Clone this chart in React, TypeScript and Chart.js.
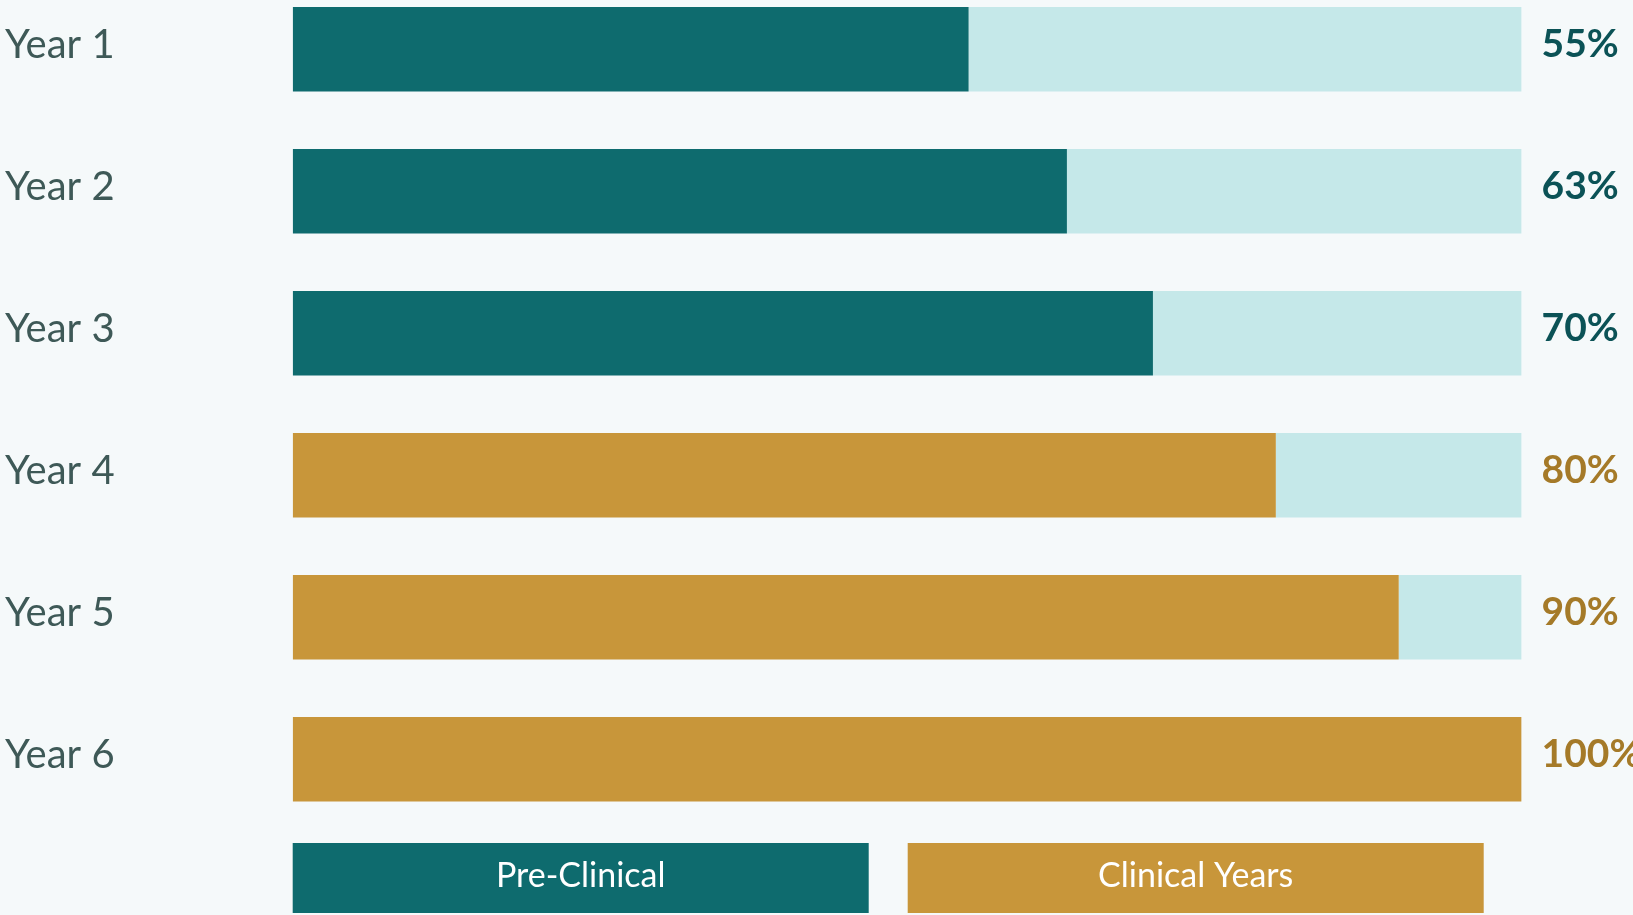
import { useEffect, useRef } from 'react';
import { Chart, registerables } from 'chart.js';

Chart.register(...registerables);

const YEARS = ['Year 1', 'Year 2', 'Year 3', 'Year 4', 'Year 5', 'Year 6'];
const PRE_CLINICAL = [55, 63, 70, 0, 0, 0];
const CLINICAL = [0, 0, 0, 80, 90, 100];
const REMAINING = [45, 37, 30, 20, 10, 0];
const LEGEND_LABELS = ['Pre-Clinical', 'Clinical Years'];

const TEAL = '#0E6B6E';
const GOLD = '#C8963A';
const LIGHT = '#C5E8E9';
const BG = '#F5F9FA';
const TEAL_TEXT = '#0B5256';
const GOLD_TEXT = '#A57A28';
const LABEL_COLOR = '#3E5957';
const FONT = "Lato, 'Open Sans', sans-serif";

const SHIFT = 40; // canvas starts above the visible page top
const CANVAS_W = 1633;
const CANVAS_H = 955;

const percentLabels = {
  id: 'percentLabels',
  afterDatasetsDraw(chart: any) {
    const { ctx, scales } = chart;
    const x = scales.x.getPixelForValue(100) + 20;
    ctx.save();
    ctx.font = `bold 39px ${FONT}`;
    ctx.textAlign = 'left';
    ctx.textBaseline = 'middle';
    YEARS.forEach((_, i) => {
      const value = PRE_CLINICAL[i] + CLINICAL[i];
      ctx.fillStyle = PRE_CLINICAL[i] > 0 ? TEAL_TEXT : GOLD_TEXT;
      ctx.fillText(`${value}%`, x, scales.y.getPixelForValue(i) - 5);
    });
    ctx.restore();
  },
};

const boxLegend = {
  id: 'boxLegend',
  afterDraw(chart: any) {
    const { ctx, chartArea } = chart;
    const boxW = 576;
    const gap = 39;
    const top = chartArea.bottom + 12.7;
    const h = 70;
    ctx.save();
    ctx.font = `34px ${FONT}`;
    ctx.textAlign = 'center';
    ctx.textBaseline = 'middle';
    LEGEND_LABELS.forEach((label, i) => {
      const ds = chart.data.datasets[i];
      const left = chartArea.left + i * (boxW + gap);
      ctx.fillStyle = ds.backgroundColor;
      ctx.fillRect(left, top, boxW, h);
      ctx.fillStyle = '#FFFFFF';
      ctx.fillText(label, left + boxW / 2, top + 33);
    });
    ctx.restore();
  },
};

export default function App() {
  const canvasRef = useRef<HTMLCanvasElement | null>(null);

  useEffect(() => {
    if (!canvasRef.current) return;
    const chart = new Chart(canvasRef.current, {
      type: 'bar',
      data: {
        labels: YEARS,
        datasets: [
          { label: LEGEND_LABELS[0], data: PRE_CLINICAL, backgroundColor: TEAL, borderWidth: 0 },
          { label: LEGEND_LABELS[1], data: CLINICAL, backgroundColor: GOLD, borderWidth: 0 },
          { label: 'Remaining', data: REMAINING, backgroundColor: LIGHT, borderWidth: 0 },
        ],
      },
      options: {
        indexAxis: 'y',
        responsive: false,
        animation: false,
        devicePixelRatio: 1,
        categoryPercentage: 1,
        barPercentage: 0.596,
        layout: { padding: { left: 5, top: 18.3, right: 111.4, bottom: 84.7 } },
        plugins: {
          legend: { display: false },
          tooltip: { enabled: false },
        },
        scales: {
          x: { stacked: true, display: false, min: 0, max: 100 },
          y: {
            stacked: true,
            grid: { display: false, drawTicks: false },
            border: { display: false },
            ticks: {
              color: LABEL_COLOR,
              font: { family: FONT, size: 40, lineHeight: 0.5 },
              crossAlign: 'far',
              labelOffset: -4.5,
              padding: 0,
            },
            afterFit: (s: any) => {
              s.width = 287.7;
            },
          },
        },
      } as any,
      plugins: [percentLabels, boxLegend],
    });
    return () => chart.destroy();
  }, []);

  return (
    <div
      style={{
        position: 'fixed',
        left: 0,
        top: 0,
        width: CANVAS_W,
        height: 915,
        overflow: 'hidden',
        background: BG,
      }}
    >
      <canvas
        ref={canvasRef}
        width={CANVAS_W}
        height={CANVAS_H}
        style={{ position: 'absolute', left: 0, top: -SHIFT, width: CANVAS_W, height: CANVAS_H }}
      />
    </div>
  );
}
